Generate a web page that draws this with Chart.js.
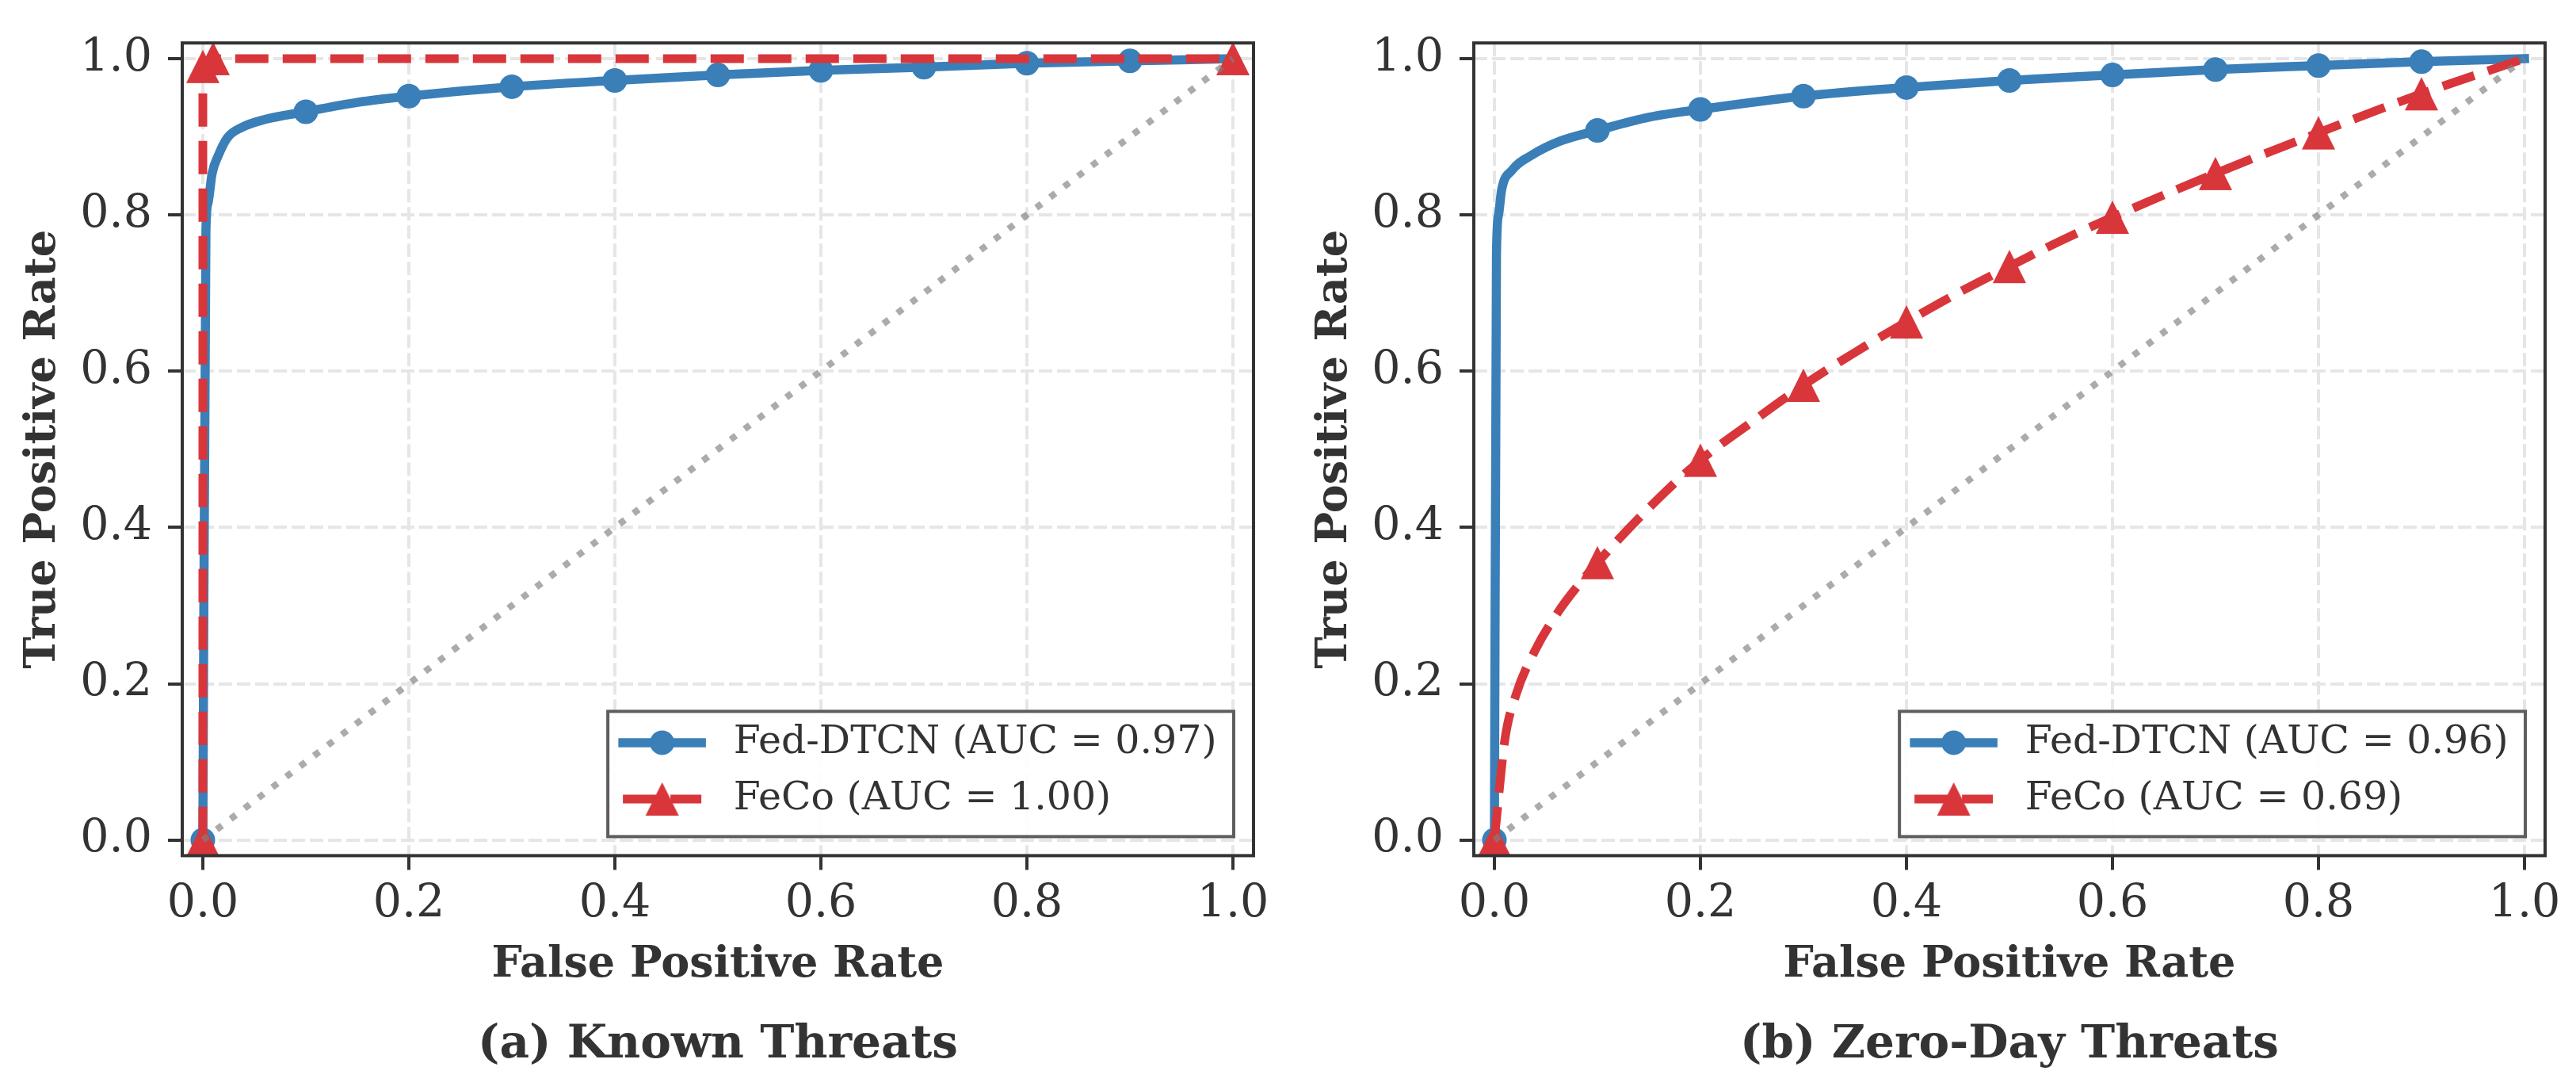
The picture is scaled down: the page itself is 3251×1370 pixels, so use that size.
<!DOCTYPE html>
<html>
<head>
<meta charset="utf-8">
<title>ROC - Known vs Zero-Day Threats</title>
<script src="https://cdn.jsdelivr.net/npm/chart.js@4.4.1/dist/chart.umd.min.js"></script>
<style>
    html, body { margin: 0; padding: 0; background: #ffffff; }
    body { width: 3251px; height: 1370px; position: relative; overflow: hidden; }
    .panel { position: absolute; top: 0; width: 1620px; height: 1370px; }
    #panelA { left: 0; }
    #panelB { left: 1630px; }
</style>
</head>
<body>
<div class="panel" id="panelA"><canvas id="chartA"></canvas></div>
<div class="panel" id="panelB"><canvas id="chartB"></canvas></div>

<script>
/* ======================================
   DATA
====================================== */
const axisTicks = [0, 0.2, 0.4, 0.6, 0.8, 1.0];
const markerFpr = [0, 0.1, 0.2, 0.3, 0.4, 0.5, 0.6, 0.7, 0.8, 0.9];

const panelTitles = ["(a) Known Threats", "(b) Zero-Day Threats"];
const dtcnLabels  = ["Fed-DTCN (AUC = 0.97)", "Fed-DTCN (AUC = 0.96)"];
const fecoLabels  = ["FeCo (AUC = 1.00)", "FeCo (AUC = 0.69)"];

// (a) known threats
const knownDtcnFpr = [0, 0.003, 0.005, 0.009, 0.015, 0.024, 0.038, 0.06, 0.1, 0.15, 0.2, 0.3, 0.4, 0.5, 0.6, 0.7, 0.8, 0.9, 1.0];
const knownDtcnTpr = [0, 0.78, 0.815, 0.853, 0.876, 0.899, 0.912, 0.922, 0.932, 0.944, 0.952, 0.964, 0.972, 0.979, 0.985, 0.989, 0.994, 0.997, 1.0];
const knownFecoFpr = [0, 0, 0.01, 1.0];
const knownFecoTpr = [0, 0.99, 1.0, 1.0];
const knownFecoMarks = [0, 0.01, 1.0];

// (b) zero-day threats
const zeroDtcnFpr = [0, 0.002, 0.004, 0.007, 0.017, 0.037, 0.063, 0.1, 0.15, 0.2, 0.3, 0.4, 0.5, 0.6, 0.7, 0.8, 0.9, 1.0];
const zeroDtcnTpr = [0, 0.75, 0.80, 0.832, 0.857, 0.877, 0.894, 0.908, 0.925, 0.935, 0.952, 0.963, 0.972, 0.979, 0.986, 0.991, 0.996, 1.0];
const zeroFecoFpr = [0, 0.01, 0.021, 0.04, 0.063, 0.082, 0.1, 0.15, 0.2, 0.25, 0.3, 0.35, 0.4, 0.45, 0.5, 0.55, 0.6, 0.7, 0.8, 0.9, 1.0];
const zeroFecoTpr = [0, 0.127, 0.186, 0.244, 0.294, 0.327, 0.355, 0.425, 0.486, 0.535, 0.582, 0.624, 0.663, 0.70, 0.734, 0.767, 0.797, 0.853, 0.905, 0.955, 1.0];

// random-guess diagonal
const chanceFpr = [0, 1];
const chanceTpr = [0, 1];


/* ======================================
   STYLE
====================================== */
const FONT = "'DejaVu Serif', serif";
const INK = "#333333";
const BLUE = "#3a7fb8";
const RED = "#d8363a";
const GRID = "#e6e6e9";

const tickFont   = { family: FONT, size: 57 };
const axisFont   = { family: FONT, size: 54, weight: "bold" };
const titleFont  = { family: FONT, size: 58, weight: "bold" };
const legendSize = 49;

function toPoints(xs, ys) {
    return xs.map((x, i) => ({ x: x, y: ys[i] }));
}

function radii(xs, marks, r) {
    return xs.map(x => marks.includes(x) ? r : 0);
}

// matplotlib-like "^" marker (bbox centred on the point)
function makeTriangle(color, size) {
    const c = document.createElement("canvas");
    c.width = size + 2;
    c.height = size + 2;
    const g = c.getContext("2d");
    g.fillStyle = color;
    g.beginPath();
    g.moveTo(c.width / 2, 1);
    g.lineTo(c.width - 1, c.height - 1);
    g.lineTo(1, c.height - 1);
    g.closePath();
    g.fill();
    return c;
}
const redTriangle = makeTriangle(RED, 42);


/* ======================================
   PLUGINS: axes frame + legend inside plot
====================================== */
const axesFrame = {
    id: "axesFrame",
    afterDatasetsDraw(chart) {
        const { ctx, chartArea: a } = chart;
        ctx.save();
        ctx.lineWidth = 4;
        ctx.strokeStyle = INK;
        ctx.strokeRect(a.left, a.top, a.right - a.left, a.bottom - a.top);
        ctx.restore();
    }
};

const insideLegend = {
    id: "insideLegend",
    afterDatasetsDraw(chart) {
        const { ctx, chartArea: a } = chart;
        const items = chart.data.datasets.filter(d => d.inLegend);

        ctx.save();
        ctx.font = legendSize + "px " + FONT;
        const textW = Math.max(...items.map(d => ctx.measureText(d.label).width));
        const boxW = 158 + textW + 22;
        const boxH = 158;
        const right = a.right - 25;
        const bottom = a.bottom - 24;
        const left = right - boxW;
        const top = bottom - boxH;

        ctx.fillStyle = "rgba(255,255,255,0.9)";
        ctx.fillRect(left, top, boxW, boxH);
        ctx.lineWidth = 4;
        ctx.strokeStyle = "#5e5e5e";
        ctx.strokeRect(left, top, boxW, boxH);

        items.forEach((d, i) => {
            const y = top + 39.5 + i * 71;

            ctx.save();
            ctx.strokeStyle = d.borderColor;
            ctx.lineWidth = d.borderWidth;
            ctx.lineCap = d.borderCapStyle || "butt";
            ctx.setLineDash(d.borderDash || []);
            ctx.beginPath();
            ctx.moveTo(left + 19, y);
            ctx.lineTo(left + 118, y);
            ctx.stroke();
            ctx.restore();

            ctx.fillStyle = d.pointBackgroundColor;
            Chart.helpers.drawPoint(ctx, {
                pointStyle: d.pointStyle, radius: d.legendRadius, borderWidth: 0, rotation: 0
            }, left + 68.5, y);

            ctx.fillStyle = INK;
            ctx.textAlign = "left";
            ctx.textBaseline = "middle";
            ctx.fillText(d.label, left + 158.5, y);
        });
        ctx.restore();
    }
};


/* ======================================
   CHART BUILDER
====================================== */
function axisOptions(titleText, isX) {
    return {
        type: "linear",
        min: -0.02,
        max: 1.02,
        afterBuildTicks: s => { s.ticks = axisTicks.map(v => ({ value: v })); },
        afterFit: s => {
            if (isX) s.height = 171;
            else s.width = 230;
        },
        ticks: {
            callback: v => Number(v).toFixed(1),
            font: tickFont,
            color: INK,
            padding: isX ? 10 : 20,
            maxRotation: 0,
            autoSkip: false
        },
        grid: {
            color: GRID,
            lineWidth: 4,
            tickLength: 18,
            tickColor: INK,
            tickWidth: 4
        },
        border: { display: false, dash: [17, 6] },
        title: {
            display: true,
            text: titleText,
            font: axisFont,
            color: INK,
            padding: isX ? { top: 0, bottom: 0 } : { top: 23, bottom: 0 }
        }
    };
}

function drawRocPanel(canvasId, idx, dtcnPts, dtcnRadius, fecoPts, fecoRadius, fecoSmooth) {
    const ctx = document.getElementById(canvasId).getContext("2d");

    return new Chart(ctx, {
        type: "line",
        data: {
            datasets: [
                {
                    label: dtcnLabels[idx],
                    inLegend: true,
                    data: dtcnPts,
                    borderColor: BLUE,
                    backgroundColor: BLUE,
                    pointBackgroundColor: BLUE,
                    borderWidth: 11.5,
                    borderCapStyle: "square",
                    borderJoinStyle: "round",
                    cubicInterpolationMode: "monotone",
                    pointStyle: "circle",
                    pointRadius: dtcnRadius,
                    legendRadius: 15.5,
                    pointBorderWidth: 0,
                    order: 3,
                    clip: 0
                },
                {
                    label: fecoLabels[idx],
                    inLegend: true,
                    data: fecoPts,
                    borderColor: RED,
                    backgroundColor: RED,
                    pointBackgroundColor: RED,
                    borderWidth: 11,
                    borderDash: [42, 18],
                    borderCapStyle: "butt",
                    borderJoinStyle: "round",
                    cubicInterpolationMode: fecoSmooth ? "monotone" : "default",
                    tension: 0,
                    pointStyle: redTriangle,
                    pointRadius: fecoRadius,
                    legendRadius: 21,
                    pointBorderWidth: 0,
                    order: 2,
                    clip: 0
                },
                {
                    label: "Random",
                    inLegend: false,
                    data: toPoints(chanceFpr, chanceTpr),
                    borderColor: "rgba(128,128,128,0.66)",
                    borderWidth: 8.3,
                    borderDash: [8.3, 13.7],
                    borderCapStyle: "butt",
                    pointRadius: 0,
                    order: 1,
                    clip: 0
                }
            ]
        },
        options: {
            responsive: true,
            maintainAspectRatio: false,
            devicePixelRatio: 1,
            animation: false,
            events: [],
            layout: { padding: { left: 0, right: 38, top: 45, bottom: 0 } },
            scales: {
                x: axisOptions("False Positive Rate", true),
                y: axisOptions("True Positive Rate", false)
            },
            plugins: {
                legend: { display: false },
                tooltip: { enabled: false },
                title: {
                    display: true,
                    position: "bottom",
                    fullSize: false,
                    text: panelTitles[idx],
                    font: titleFont,
                    color: INK,
                    padding: { top: 34, bottom: 16 }
                }
            }
        },
        plugins: [axesFrame, insideLegend]
    });
}


/* ======================================
   DRAW BOTH PANELS
====================================== */
drawRocPanel(
    "chartA", 0,
    toPoints(knownDtcnFpr, knownDtcnTpr), radii(knownDtcnFpr, markerFpr, 15.5),
    toPoints(knownFecoFpr, knownFecoTpr), radii(knownFecoFpr, knownFecoMarks, 21),
    false
);

drawRocPanel(
    "chartB", 1,
    toPoints(zeroDtcnFpr, zeroDtcnTpr), radii(zeroDtcnFpr, markerFpr, 15.5),
    toPoints(zeroFecoFpr, zeroFecoTpr), radii(zeroFecoFpr, markerFpr, 21),
    true
);
</script>
</body>
</html>
